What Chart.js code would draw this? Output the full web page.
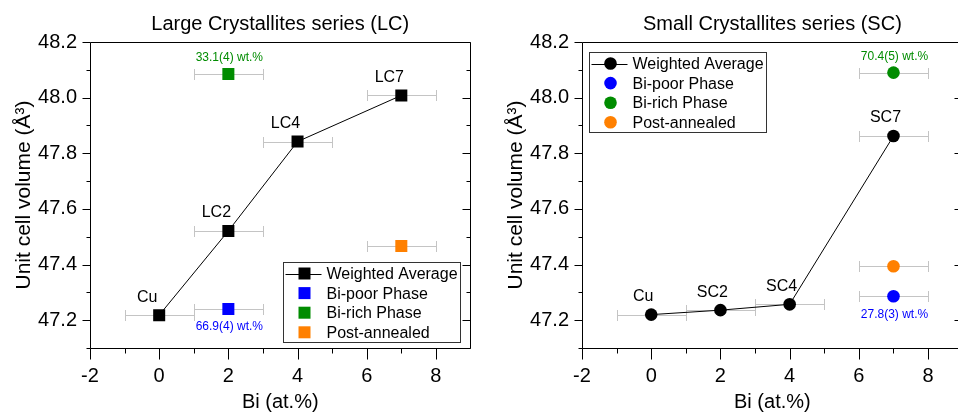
<!DOCTYPE html>
<html><head><meta charset="utf-8">
<script src="https://cdn.jsdelivr.net/npm/chart.js@4.4.0/dist/chart.umd.min.js"></script>
<style>
html,body{margin:0;padding:0;background:#fff;overflow:hidden;width:958px;height:414px;}
#wrap{position:relative;width:958px;height:414px;overflow:hidden;background:#fff;}
#c1{position:absolute;left:0;top:0;}
#c2{position:absolute;left:479px;top:0;}
</style></head><body>
<div id="wrap"><canvas id="c1" width="479" height="414"></canvas><canvas id="c2" width="490" height="414"></canvas></div>
<script>
const FONT = '"Liberation Sans", Arial, sans-serif';

// ---------- data ----------
const biAt = [0, 2, 4, 7];
const biErr = [1, 1, 1, 1];

const lcAverage = [47.218, 47.521, 47.842, 48.008];
const lcNames = ['Cu', 'LC2', 'LC4', 'LC7'];
const lcPoorX = [2];  const lcPoor = [47.240]; const lcPoorNote = ['66.9(4) wt.%'];
const lcRichX = [2];  const lcRich = [48.085]; const lcRichNote = ['33.1(4) wt.%'];
const lcPostX = [7];  const lcPost = [47.467];

const scAverage = [47.220, 47.236, 47.257, 47.862];
const scNames = ['Cu', 'SC2', 'SC4', 'SC7'];
const scPoorX = [7];  const scPoor = [47.286]; const scPoorNote = ['27.8(3) wt.%'];
const scRichX = [7];  const scRich = [48.090]; const scRichNote = ['70.4(5) wt.%'];
const scPostX = [7];  const scPost = [47.394];

const seriesNames = ['Weighted Average', 'Bi-poor Phase', 'Bi-rich Phase', 'Post-annealed'];
const seriesColors = ['#000000', '#0000ff', '#008c00', '#ff8000'];

const xTickValues = [-2, 0, 2, 4, 6, 8];
const xTickLabels = ['-2', '0', '2', '4', '6', '8'];
const xMinorValues = [-1, 1, 3, 5, 7];
const yTickValues = [47.2, 47.4, 47.6, 47.8, 48.0, 48.2];
const yTickLabels = ['47.2', '47.4', '47.6', '47.8', '48.0', '48.2'];
const yMinorValues = [47.1, 47.3, 47.5, 47.7, 47.9, 48.1];

const xTitle = 'Bi (at.%)';
const yTitle = 'Unit cell volume (Å³)';

// ---------- helpers ----------
function pts(xs, ys) { return xs.map((x, i) => ({ x: x, y: ys[i] })); }

function makeDatasets(avg, poorX, poor, poorNote, richX, rich, richNote, postX, post, style, radius) {
  return [
    { label: seriesNames[0], data: pts(biAt, avg), xErr: biErr, showLine: true,
      borderColor: '#000', borderWidth: 1, backgroundColor: seriesColors[0],
      pointBackgroundColor: seriesColors[0], pointBorderColor: seriesColors[0],
      pointStyle: style, pointRadius: radius, pointBorderWidth: 0, order: 1 },
    { label: seriesNames[1], data: pts(poorX, poor), xErr: poorX.map(() => 1), note: poorNote, notePos: 'below',
      pointBackgroundColor: seriesColors[1], pointBorderColor: seriesColors[1], backgroundColor: seriesColors[1],
      pointStyle: style, pointRadius: radius, pointBorderWidth: 0, showLine: false },
    { label: seriesNames[2], data: pts(richX, rich), xErr: richX.map(() => 1), note: richNote, notePos: 'above',
      pointBackgroundColor: seriesColors[2], pointBorderColor: seriesColors[2], backgroundColor: seriesColors[2],
      pointStyle: style, pointRadius: radius, pointBorderWidth: 0, showLine: false },
    { label: seriesNames[3], data: pts(postX, post), xErr: postX.map(() => 1),
      pointBackgroundColor: seriesColors[3], pointBorderColor: seriesColors[3], backgroundColor: seriesColors[3],
      pointStyle: style, pointRadius: radius, pointBorderWidth: 0, showLine: false }
  ];
}

function drawMarker(ctx, style, cx, cy, color) {
  ctx.fillStyle = color;
  ctx.beginPath();
  if (style === 'rect') ctx.rect(cx - 6, cy - 6, 12, 12);
  else ctx.arc(cx, cy, 6.3, 0, Math.PI * 2);
  ctx.fill();
}

function makeDecor(cfg) {
  return {
    id: 'decor',
    beforeDraw(chart) {
      const ctx = chart.ctx;
      ctx.save(); ctx.fillStyle = '#fff'; ctx.fillRect(0, 0, chart.width, chart.height); ctx.restore();
    },
    beforeDatasetsDraw(chart) {
      const { ctx, scales: { x, y } } = chart;
      ctx.save();
      ctx.strokeStyle = '#c4c4c4'; ctx.lineWidth = 1;
      chart.data.datasets.forEach(ds => {
        ds.data.forEach((p, i) => {
          const e = ds.xErr[i];
          const x0 = Math.round(x.getPixelForValue(p.x - e)) + 0.5;
          const x1 = Math.round(x.getPixelForValue(p.x + e)) + 0.5;
          const py = Math.round(y.getPixelForValue(p.y)) + 0.5;
          ctx.beginPath();
          ctx.moveTo(x0, py); ctx.lineTo(x1, py);
          ctx.moveTo(x0, py - 5.5); ctx.lineTo(x0, py + 5.5);
          ctx.moveTo(x1, py - 5.5); ctx.lineTo(x1, py + 5.5);
          ctx.stroke();
        });
      });
      ctx.restore();
    },
    afterDraw(chart) {
      const { ctx, chartArea: ca, scales: { x, y } } = chart;
      ctx.save();
      // frame
      ctx.strokeStyle = '#000'; ctx.lineWidth = 1;
      const L = Math.round(ca.left) + 0.5, R = Math.round(ca.right) - 0.5;
      const T = Math.round(ca.top) + 0.5, B = Math.round(ca.bottom) + 0.5;
      ctx.beginPath();
      ctx.moveTo(L, T); ctx.lineTo(R, T); ctx.lineTo(R, B); ctx.lineTo(L, B); ctx.closePath();
      ctx.stroke();
      // ticks
      ctx.beginPath();
      xTickValues.forEach(v => { const px = Math.round(x.getPixelForValue(v)) + 0.5; ctx.moveTo(px, B); ctx.lineTo(px, B + 11); });
      xMinorValues.forEach(v => { const px = Math.round(x.getPixelForValue(v)) + 0.5; ctx.moveTo(px, B); ctx.lineTo(px, B + 5); });
      yTickValues.forEach(v => { const py = Math.round(y.getPixelForValue(v)) + 0.5;
        ctx.moveTo(L - 8, py); ctx.lineTo(L, py); ctx.moveTo(R, py); ctx.lineTo(R - 8, py); });
      yMinorValues.forEach(v => { const py = Math.round(y.getPixelForValue(v)) + 0.5;
        ctx.moveTo(L - 4, py); ctx.lineTo(L, py); ctx.moveTo(R, py); ctx.lineTo(R - 4, py); });
      ctx.stroke();

      ctx.fillStyle = '#000';
      ctx.textAlign = 'center'; ctx.textBaseline = 'middle';
      // chart title
      ctx.font = '20px ' + FONT;
      ctx.fillText(cfg.title, (ca.left + ca.right) / 2, 24);
      // x title
      ctx.fillText(xTitle, (ca.left + ca.right) / 2, 402);
      // y title
      ctx.save();
      ctx.translate(ca.left - 66, (ca.top + ca.bottom) / 2);
      ctx.rotate(-Math.PI / 2);
      ctx.font = '21px ' + FONT;
      ctx.fillText(yTitle, 0, 0);
      ctx.restore();

      // point names on the weighted-average series
      const avg = chart.data.datasets[0];
      ctx.font = '16px ' + FONT;
      avg.data.forEach((p, i) => {
        ctx.fillText(cfg.names[i], x.getPixelForValue(p.x) + cfg.nameDx, y.getPixelForValue(p.y) - 18);
      });
      // wt.% notes
      ctx.font = '12px ' + FONT;
      chart.data.datasets.forEach((ds, di) => {
        if (!ds.note) return;
        ctx.fillStyle = seriesColors[di];
        ds.data.forEach((p, i) => {
          const py = y.getPixelForValue(p.y);
          ctx.fillText(ds.note[i], x.getPixelForValue(p.x) + 1, ds.notePos === 'above' ? py - 16 : py + 18);
        });
      });

      // legend
      const lx = Math.round(ca.left + cfg.legendDx) + 0.5, ly = Math.round(ca.top + cfg.legendDy) + 0.5;
      ctx.strokeStyle = '#333'; ctx.lineWidth = 1;
      ctx.strokeRect(lx, ly, 177, 80);
      ctx.font = '16px ' + FONT;
      ctx.textAlign = 'left';
      chart.data.datasets.forEach((ds, di) => {
        const ry = ly + 11 + di * 19.6;
        if (di === 0) {
          ctx.strokeStyle = '#000';
          ctx.beginPath(); ctx.moveTo(lx + 2, Math.round(ry) + 0.5); ctx.lineTo(lx + 38, Math.round(ry) + 0.5); ctx.stroke();
        }
        drawMarker(ctx, cfg.style, lx + 21, ry, seriesColors[di]);
        ctx.fillStyle = '#000';
        ctx.fillText(ds.label, lx + 43, ry + 1);
      });
      ctx.restore();
    }
  };
}

function makeChart(canvas, datasets, cfg, yWidth, padRight) {
  return new Chart(canvas, {
    type: 'scatter',
    data: { datasets: datasets },
    options: {
      responsive: false, animation: false, devicePixelRatio: 1,
      layout: { padding: { top: 42, right: padRight, left: 0, bottom: 0 } },
      plugins: { legend: { display: false }, tooltip: { enabled: false }, title: { display: false } },
      scales: {
        x: {
          type: 'linear', min: -2, max: 9,
          afterBuildTicks: s => { s.ticks = xTickValues.map(v => ({ value: v })); },
          afterFit: s => { s.height = 66; },
          grid: { display: false, drawTicks: false }, border: { display: false },
          ticks: { padding: 16, color: '#000', font: { family: FONT, size: 20 }, maxRotation: 0,
                   callback: (v, i) => xTickLabels[i] }
        },
        y: {
          type: 'linear', min: 47.1, max: 48.2,
          afterBuildTicks: s => { s.ticks = yTickValues.map(v => ({ value: v })); },
          afterFit: s => { s.width = yWidth; },
          grid: { display: false, drawTicks: false }, border: { display: false },
          ticks: { padding: 13, color: '#000', font: { family: FONT, size: 20 },
                   callback: (v, i) => yTickLabels[i] }
        }
      }
    },
    plugins: [makeDecor(cfg)]
  });
}

makeChart(document.getElementById('c1'),
  makeDatasets(lcAverage, lcPoorX, lcPoor, lcPoorNote, lcRichX, lcRich, lcRichNote, lcPostX, lcPost, 'rect', 8.5),
  { title: 'Large Crystallites series (LC)', names: lcNames, nameDx: -12, style: 'rect', legendDx: 193, legendDy: 220 },
  90, 6);

makeChart(document.getElementById('c2'),
  makeDatasets(scAverage, scPoorX, scPoor, scPoorNote, scRichX, scRich, scRichNote, scPostX, scPost, 'circle', 6.3),
  { title: 'Small Crystallites series (SC)', names: scNames, nameDx: -8, style: 'circle', legendDx: 7, legendDy: 10 },
  103, 5);
</script>
</body></html>
